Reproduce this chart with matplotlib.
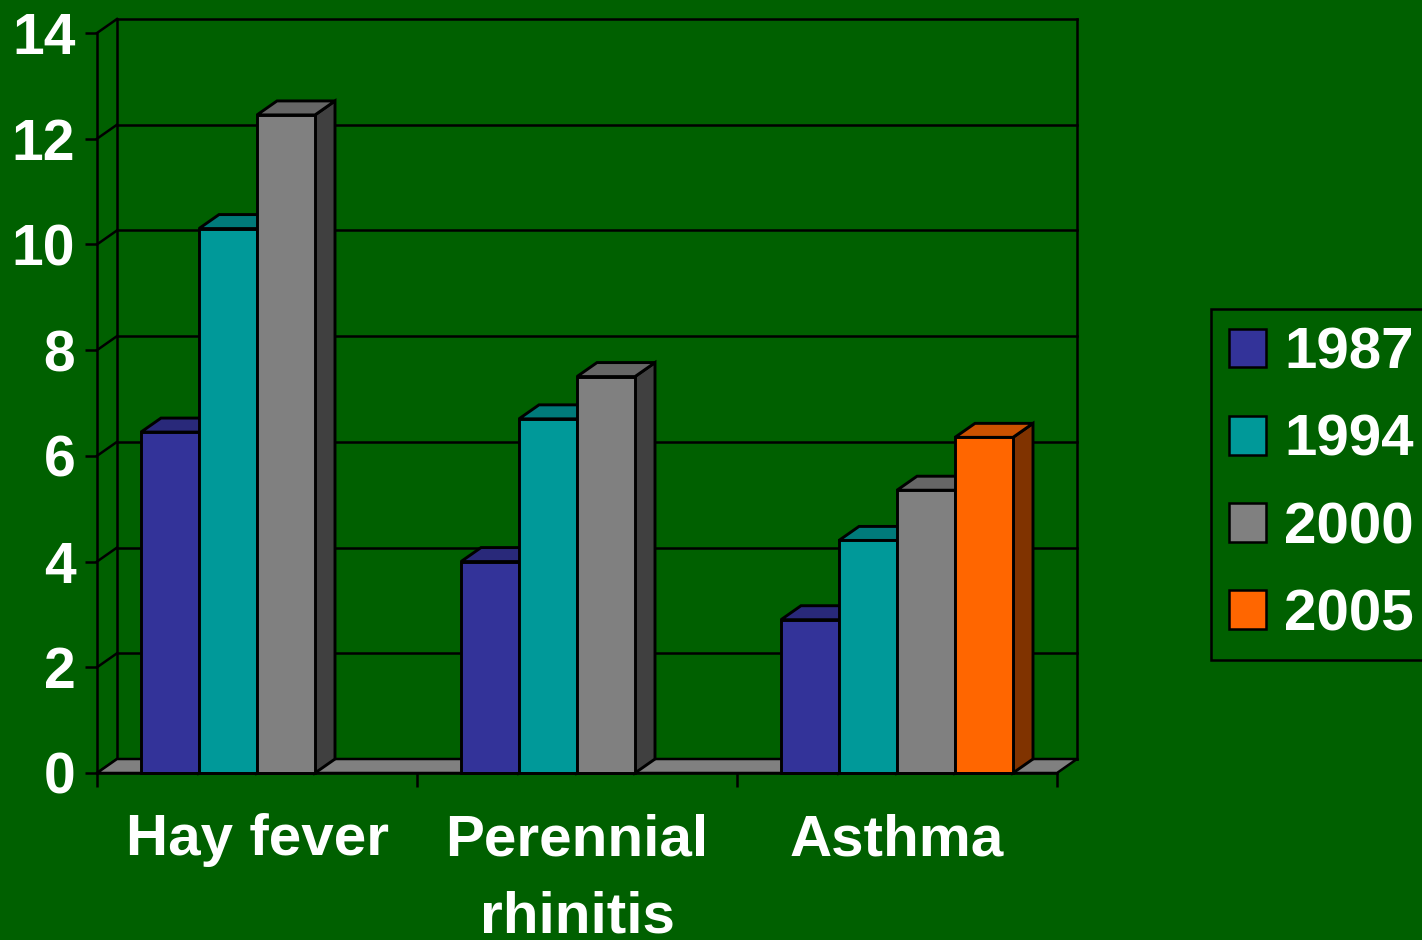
import matplotlib
matplotlib.use("Agg")
import matplotlib.pyplot as plt
from matplotlib.patches import Patch, Polygon

plt.rcParams['font.family'] = ['Liberation Sans', 'DejaVu Sans']
plt.rcParams['font.weight'] = 'bold'

# data
categories = ['Hay fever', 'Perennial\nrhinitis', 'Asthma']
years = ['1987', '1994', '2000', '2005']
v1987 = [6.45, 4.0, 2.9]
v1994 = [10.3, 6.7, 4.4]
v2000 = [12.45, 7.5, 5.35]
v2005 = [None, None, 6.35]
series = [v1987, v1994, v2000, v2005]

front_cols = ['#333399', '#009999', '#808080', '#FF6600']
top_cols = ['#29297A', '#007A7A', '#666666', '#CC5200']
side_cols = ['#1A1A4D', '#004D4D', '#404040', '#803300']
bg = '#006000'

W, H = 1422, 940
fig = plt.figure(figsize=(W / 100, H / 100), dpi=100, facecolor=bg)

# 3d depth offsets in data units
ddx = 20 / 320
ddy = 14 / 52.86
ymax = 14

ax = fig.add_axes([97 / W, 167 / H, 980 / W, 754 / H])
ax.set_facecolor(bg)
ax.patch.set_alpha(0)
ax.set_xlim(0, 3 + ddx)
ax.set_ylim(0, ymax + ddy)

glw = 1.8   # grid / wall lines
lw = 2.1    # bar edges

# back wall, side wall, gridlines
for k in range(0, ymax + 1, 2):
    ax.plot([ddx, 3 + ddx], [k + ddy, k + ddy], color='black', lw=glw, zorder=1, clip_on=False)
    ax.plot([0, ddx], [k, k + ddy], color='black', lw=glw, zorder=1, clip_on=False)
ax.plot([ddx, ddx], [ddy, ymax + ddy], color='black', lw=glw, zorder=1, clip_on=False)
ax.plot([3 + ddx, 3 + ddx], [ddy, ymax + ddy], color='black', lw=glw, zorder=1, clip_on=False)

# floor
floor = Polygon([(0, 0), (3, 0), (3 + ddx, ddy), (ddx, ddy)], closed=True,
                facecolor='#808080', edgecolor='black', lw=glw, zorder=2, clip_on=False)
ax.add_patch(floor)

# bars
w = 58 / 320
z = 3
for i in range(len(categories)):
    for j, vals in enumerate(series):
        v = vals[i]
        if v is None:
            continue
        x0 = i + 0.5 + (j - 2) * w
        x1 = x0 + w
        side = Polygon([(x1, 0), (x1 + ddx, ddy), (x1 + ddx, v + ddy), (x1, v)], closed=True,
                       facecolor=side_cols[j], edgecolor='black', lw=lw, zorder=z, clip_on=False)
        top = Polygon([(x0, v), (x0 + ddx, v + ddy), (x1 + ddx, v + ddy), (x1, v)], closed=True,
                      facecolor=top_cols[j], edgecolor='black', lw=lw, zorder=z + 1, clip_on=False)
        ax.add_patch(side)
        ax.add_patch(top)
        ax.bar(x0, v, width=w, align='edge', color=front_cols[j], edgecolor='black',
               lw=lw, zorder=z + 2, clip_on=False)
        z += 3

# axes lines and ticks
for s in ['top', 'right']:
    ax.spines[s].set_visible(False)
ax.spines['left'].set_bounds(0, ymax)
ax.spines['bottom'].set_bounds(0, 3)
for s in ['left', 'bottom']:
    ax.spines[s].set_linewidth(glw)
    ax.spines[s].set_zorder(50)

ax.set_yticks(range(0, ymax + 1, 2))
ax.tick_params(axis='y', length=8.6, width=glw, color='black', pad=7,
               labelsize=41, labelcolor='white')
ax.set_xticks([0, 1, 2, 3])
ax.set_xticklabels([])
ax.tick_params(axis='x', which='major', length=10, width=glw, color='black')
ax.set_xticks([0.5, 1.5, 2.5], minor=True)
ax.set_xticklabels(categories, minor=True, linespacing=1.55)
ax.tick_params(axis='x', which='minor', length=0, pad=29, labelsize=42, labelcolor='white')

# legend
handles = [Patch(facecolor=c, edgecolor='black', lw=1.8) for c in front_cols]
leg = fig.legend(handles, years, loc='upper left', bbox_to_anchor=(1211 / W, 1 - 309 / H),
                 frameon=True, fancybox=False, facecolor=bg, edgecolor='black', framealpha=1,
                 fontsize=42, labelcolor='white', handlelength=0.65, handleheight=0.65,
                 handletextpad=0.3, labelspacing=0.57, borderpad=0.3, borderaxespad=0)
leg.get_frame().set_linewidth(1.8)

fig.savefig('out.png', dpi=100, facecolor=bg)
